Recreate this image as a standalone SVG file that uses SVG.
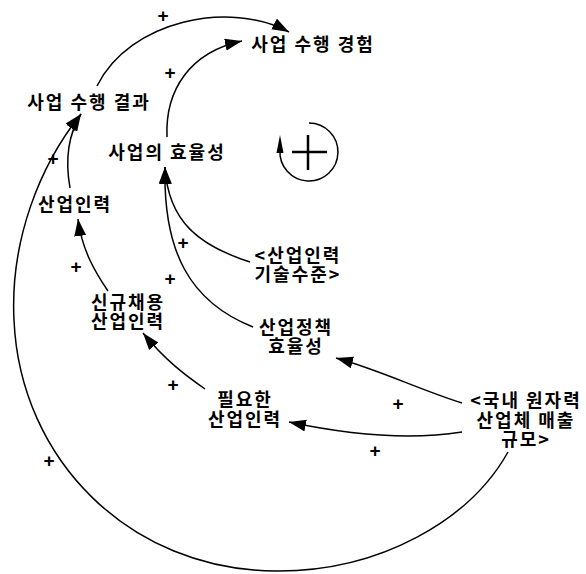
<svg xmlns="http://www.w3.org/2000/svg" width="586" height="574" viewBox="0 0 586 574">
<style>
.lbl{font-family:"Noto Sans CJK KR","Noto Sans",sans-serif;font-size:18px;font-weight:bold;fill:#000;text-anchor:middle;letter-spacing:2px}
.pl{font-family:"Liberation Sans",sans-serif;font-size:19px;font-weight:bold;fill:#000;text-anchor:middle}
.c{fill:none;stroke:#000;stroke-width:1.5}
</style>
<defs>
<marker id="ah" markerUnits="userSpaceOnUse" markerWidth="18" markerHeight="13" refX="17" refY="6" orient="auto">
<path d="M0,0 L17,6 L0,12 z" fill="#000"/>
</marker>
</defs>
<rect width="586" height="574" fill="#fff"/>
<g id="connectors">
<path class="c" d="M97 86 C130 20 230 0 289 32" marker-end="url(#ah)"/>
<path class="c" d="M167 137 C165 90 190 52 242 41" marker-end="url(#ah)"/>
<path class="c" d="M70 188 C65 160 68 135 81 114" marker-end="url(#ah)"/>
<path class="c" d="M508 452 C470 520 380 572 275 571 C130 570 20 460 14 320 C10 240 40 165 81 114" marker-end="url(#ah)"/>
<path class="c" d="M250 262 C200 246 168 222 165 167" marker-end="url(#ah)"/>
<path class="c" d="M253 327 C190 302 163 252 165 167" marker-end="url(#ah)"/>
<path class="c" d="M108 291 C95 272 82 250 78 219" marker-end="url(#ah)"/>
<path class="c" d="M205 389 C185 375 165 360 143 333" marker-end="url(#ah)"/>
<path class="c" d="M462 403 C420 390 380 370 336 358" marker-end="url(#ah)"/>
<path class="c" d="M462 432 C410 440 350 435 289 422" marker-end="url(#ah)"/>
</g>
<g id="polarity">
<text class="pl" x="163" y="22">+</text>
<text class="pl" x="170" y="79">+</text>
<text class="pl" x="53" y="165">+</text>
<text class="pl" x="183" y="249">+</text>
<text class="pl" x="170" y="285">+</text>
<text class="pl" x="76" y="273">+</text>
<text class="pl" x="173" y="391">+</text>
<text class="pl" x="398" y="410">+</text>
<text class="pl" x="375" y="457">+</text>
<text class="pl" x="49" y="467">+</text>
</g>
<g id="loop">
<path d="M309 123 A29 29 0 1 1 280 150" fill="none" stroke="#000" stroke-width="1.5"/>
<path d="M280 135 L276.5 153 L283.5 153 z" fill="#000"/>
<path d="M292 152 H327 M308 135 V170" stroke="#000" stroke-width="2.5"/>
</g>
<g id="n-experience"><text class="lbl" x="313" y="51">사업 수행 경험</text></g>
<g id="n-result"><text class="lbl" x="89" y="109">사업 수행 결과</text></g>
<g id="n-efficiency"><text class="lbl" x="167" y="159">사업의 효율성</text></g>
<g id="n-workforce"><text class="lbl" x="75" y="211">산업인력</text></g>
<g id="n-newhire"><text class="lbl" x="128" y="309">신규채용</text><text class="lbl" x="128" y="328">산업인력</text></g>
<g id="n-skill"><text class="lbl" x="298" y="262">&lt;산업인력</text><text class="lbl" x="298" y="281">기술수준&gt;</text></g>
<g id="n-policy"><text class="lbl" x="296" y="334">산업정책</text><text class="lbl" x="296" y="353">효율성</text></g>
<g id="n-needed"><text class="lbl" x="245" y="406">필요한</text><text class="lbl" x="245" y="426">산업인력</text></g>
<g id="n-sales"><text class="lbl" x="526" y="407">&lt;국내 원자력</text><text class="lbl" x="526" y="427">산업체 매출</text><text class="lbl" x="526" y="446">규모&gt;</text></g>
</svg>
